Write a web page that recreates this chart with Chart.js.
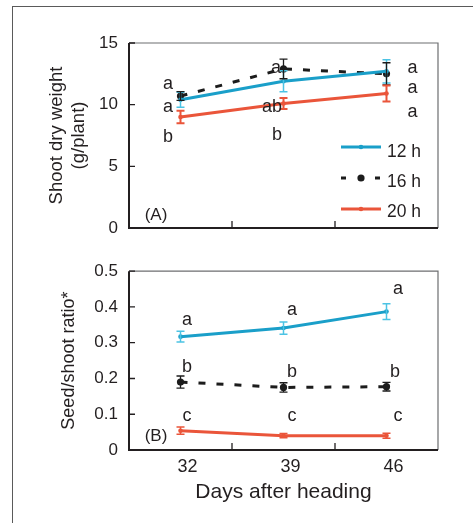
<!DOCTYPE html>
<html lang="en">
  <head>
    <meta charset="UTF-8" />
    <title>Shoot dry weight and seed/shoot ratio</title>
    <style>
      body {
        margin: 0;
        background: #fff;
        font-family: "Liberation Sans", Arial, sans-serif;
      }
      #page {
        position: relative;
        width: 473px;
        height: 523px;
        overflow: hidden;
      }
      .frame {
        position: absolute;
        left: 12px;
        top: 6px;
        width: 480px;
        height: 540px;
        border-left: 1.5px solid #5a5a5a;
        border-top: 1.5px solid #5a5a5a;
      }
      .panel {
        position: absolute;
        left: 0;
        width: 473px;
      }
      #panelA { top: 0; height: 250px; }
      #panelB { top: 250px; height: 273px; }
    </style>
    <script src="https://cdn.jsdelivr.net/npm/chart.js@4.4.1/dist/chart.umd.min.js"></script>
  </head>
  <body>
    <div id="page">
      <div class="frame"></div>
      <div class="panel" id="panelA"><canvas id="chartA"></canvas></div>
      <div class="panel" id="panelB"><canvas id="chartB"></canvas></div>
    </div>

    <script>
      // categories and series
      const days = ["32", "39", "46"];
      const seriesNames = ["12 h", "16 h", "20 h"];

      // (A) shoot dry weight, g/plant (means and error bars)
      const shoot12 = [10.4, 11.9, 12.7];
      const shoot16 = [10.7, 12.9, 12.5];
      const shoot20 = [9.0, 10.1, 10.9];
      const shootErr12 = [0.6, 0.85, 0.95];
      const shootErr16 = [0.35, 0.8, 0.9];
      const shootErr20 = [0.5, 0.45, 0.65];
      const shootTicks = [0, 5, 10, 15];
      const shootLetters12 = ["a", "ab", "a"];
      const shootLetters16 = ["a", "a", "a"];
      const shootLetters20 = ["b", "b", "a"];

      // (B) seed/shoot ratio
      const ratio12 = [0.317, 0.341, 0.387];
      const ratio16 = [0.19, 0.175, 0.177];
      const ratio20 = [0.054, 0.04, 0.04];
      const ratioErr12 = [0.015, 0.017, 0.022];
      const ratioErr16 = [0.017, 0.013, 0.012];
      const ratioErr20 = [0.01, 0.006, 0.007];
      const ratioTicks = [0, 0.1, 0.2, 0.3, 0.4, 0.5];
      const ratioLetters12 = ["a", "a", "a"];
      const ratioLetters16 = ["b", "b", "b"];
      const ratioLetters20 = ["c", "c", "c"];

      // where the letters sit (value of their centre, px shift from the point)
      const shootLetterY = [[9.81, 9.97, 11.35], [11.68, 12.97, 12.97], [7.54, 7.7, 9.4]];
      const shootLetterDx = [[-12.5, -11.5, 26], [-12.5, -7.5, 26], [-12.5, -6.5, 26]];
      const ratioLetterY = [[0.363, 0.392, 0.451], [0.237, 0.222, 0.223], [0.096, 0.096, 0.096]];
      const ratioLetterDx = [[6.5, 8.5, 11.5], [6.5, 8.5, 8.5], [6.5, 8.5, 11.5]];

      const BLUE = "#1a9fc9";
      const BLUE_ERR = "#4cc3e4";
      const BLACK = "#1c1c1c";
      const RED = "#ea553a";
      const INK = "#231f20";

      Chart.defaults.font.family = "'Liberation Sans', Arial, Helvetica, sans-serif";
      Chart.defaults.color = INK;

      function lineSets(v12, v16, v20, e12, e16, e20, redErrWidth) {
        return [
          { label: seriesNames[0], data: v12, err: e12, borderColor: BLUE, backgroundColor: BLUE,
            errColor: BLUE_ERR, errWidth: 1.5, borderWidth: 3, pointRadius: 2.3, pointBorderWidth: 0 },
          { label: seriesNames[1], data: v16, err: e16, borderColor: BLACK, backgroundColor: BLACK,
            errColor: BLACK, errWidth: 1.3, borderWidth: 3, borderDash: [7, 11], pointRadius: 3.6, pointBorderWidth: 0 },
          { label: seriesNames[2], data: v20, err: e20, borderColor: RED, backgroundColor: RED,
            errColor: RED, errWidth: redErrWidth, borderWidth: 3, pointRadius: 2.3, pointBorderWidth: 0 },
        ];
      }

      function letterItems(sets, ys, dxs) {
        const out = [];
        sets.forEach((letters, i) =>
          letters.forEach((t, j) => out.push({ text: t, col: j, value: ys[i][j], dx: dxs[i][j] }))
        );
        return out;
      }

      function centreText(ctx, text, cx, cy) {
        const m = ctx.measureText(text);
        ctx.fillText(text, cx, cy + (m.actualBoundingBoxAscent - m.actualBoundingBoxDescent) / 2);
      }

      // box, inward ticks, error bars, letters, panel tag and legend
      const decor = {
        id: "decor",
        beforeDatasetsDraw(chart) {
          const { ctx, chartArea: a, scales: { x, y } } = chart;
          ctx.save();
          ctx.strokeStyle = "#6d6e70";
          ctx.lineWidth = 1.2;
          ctx.beginPath();
          ctx.moveTo(a.left, a.top);
          ctx.lineTo(a.right, a.top);
          ctx.lineTo(a.right, a.bottom);
          ctx.stroke();
          ctx.strokeStyle = INK;
          ctx.lineWidth = 2;
          ctx.beginPath();
          ctx.moveTo(a.left, a.top);
          ctx.lineTo(a.left, a.bottom);
          ctx.lineTo(a.right, a.bottom);
          ctx.stroke();
          ctx.lineWidth = 1.3;
          ctx.beginPath();
          y.ticks.forEach((t) => {
            const py = y.getPixelForValue(t.value);
            ctx.moveTo(a.left, py);
            ctx.lineTo(a.left + 6, py);
          });
          for (let j = 0; j < x.ticks.length - 1; j++) {
            const px = (x.getPixelForValue(j) + x.getPixelForValue(j + 1)) / 2;
            ctx.moveTo(px, a.bottom);
            ctx.lineTo(px, a.bottom - 7);
          }
          ctx.stroke();
          ctx.restore();
        },
        afterDatasetsDraw(chart, args, o) {
          const { ctx, scales: { x, y } } = chart;
          ctx.save();
          chart.data.datasets.forEach((ds) => {
            ctx.strokeStyle = ds.errColor;
            ctx.lineWidth = ds.errWidth;
            ctx.beginPath();
            ds.data.forEach((v, j) => {
              const px = x.getPixelForValue(j);
              const lo = y.getPixelForValue(v - ds.err[j]);
              const hi = y.getPixelForValue(v + ds.err[j]);
              ctx.moveTo(px, lo);
              ctx.lineTo(px, hi);
              ctx.moveTo(px - 4, lo);
              ctx.lineTo(px + 4, lo);
              ctx.moveTo(px - 4, hi);
              ctx.lineTo(px + 4, hi);
            });
            ctx.stroke();
          });

          ctx.fillStyle = INK;
          ctx.textAlign = "center";
          ctx.textBaseline = "alphabetic";
          ctx.font = "18px 'Liberation Sans', Arial, sans-serif";
          o.letters.forEach((l) => {
            centreText(ctx, l.text, x.getPixelForValue(l.col) + l.dx, y.getPixelForValue(l.value));
          });

          ctx.font = "17px 'Liberation Sans', Arial, sans-serif";
          centreText(ctx, o.tag.text, o.tag.x, o.tag.y);

          if (o.legend) {
            const L = o.legend;
            chart.data.datasets.forEach((ds, i) => {
              const ly = L.lineY[i];
              ctx.strokeStyle = ds.borderColor;
              ctx.lineWidth = ds.borderWidth;
              ctx.setLineDash(ds.borderDash ? [5, 12] : []);
              ctx.beginPath();
              ctx.moveTo(L.x1, ly);
              ctx.lineTo(L.x2, ly);
              ctx.stroke();
              ctx.setLineDash([]);
              ctx.fillStyle = ds.backgroundColor;
              ctx.beginPath();
              ctx.arc((L.x1 + L.x2) / 2, ly, ds.pointRadius, 0, Math.PI * 2);
              ctx.fill();
              ctx.fillStyle = INK;
              ctx.textAlign = "left";
              ctx.font = "17.5px 'Liberation Sans', Arial, sans-serif";
              ctx.fillText(ds.label, L.textX, L.baseY[i]);
            });
          }
          ctx.restore();
        },
      };

      function makeChart(id, cfg) {
        return new Chart(document.getElementById(id), {
          type: "line",
          data: { labels: days, datasets: cfg.datasets },
          options: {
            responsive: true,
            maintainAspectRatio: false,
            animation: false,
            layout: { padding: { left: 0, top: cfg.top, right: 35, bottom: 0 } },
            plugins: {
              legend: { display: false },
              tooltip: { enabled: false },
              decor: cfg.decor,
            },
            scales: {
              x: {
                type: "category",
                offset: true,
                grid: { display: false, drawTicks: false },
                border: { display: false },
                ticks: {
                  display: cfg.xLabels,
                  padding: 6,
                  labelOffset: 7,
                  font: { size: 18 },
                  color: INK,
                },
                title: {
                  display: cfg.xLabels,
                  text: "Days after heading",
                  font: { size: 21, lineHeight: 1.2 },
                  color: INK,
                  padding: { top: 0, bottom: 18 },
                },
                afterFit: (s) => { s.height = cfg.xHeight; },
              },
              y: {
                min: cfg.ticks[0],
                max: cfg.ticks[cfg.ticks.length - 1],
                grid: { display: false, drawTicks: false },
                border: { display: false },
                afterBuildTicks: (s) => { s.ticks = cfg.ticks.map((v) => ({ value: v })); },
                ticks: {
                  padding: 11,
                  font: { size: 17 },
                  color: INK,
                  callback: (v) => String(v),
                },
                title: {
                  display: true,
                  text: cfg.yTitle,
                  font: { size: cfg.yTitleSize, lineHeight: 1.2 },
                  color: INK,
                  padding: { top: cfg.yTitlePad, bottom: 0 },
                },
                afterFit: (s) => { s.width = 129; },
              },
            },
          },
          plugins: [decor],
        });
      }

      makeChart("chartA", {
        datasets: lineSets(shoot12, shoot16, shoot20, shootErr12, shootErr16, shootErr20, 2),
        top: 43,
        xHeight: 22,
        xLabels: false,
        ticks: shootTicks,
        yTitle: ["Shoot dry weight", "(g/plant)"],
        yTitleSize: 18.5,
        yTitlePad: 46,
        decor: {
          letters: letterItems([shootLetters12, shootLetters16, shootLetters20], shootLetterY, shootLetterDx),
          tag: { text: "(A)", x: 156, y: 215 },
          legend: { x1: 341, x2: 381, textX: 387, lineY: [147, 178, 209], baseY: [157, 187, 217] },
        },
      });

      makeChart("chartB", {
        datasets: lineSets(ratio12, ratio16, ratio20, ratioErr12, ratioErr16, ratioErr20, 1.5),
        top: 17,
        xHeight: 73,
        xLabels: true,
        ticks: ratioTicks,
        yTitle: "Seed/shoot ratio*",
        yTitleSize: 18,
        yTitlePad: 58.5,
        decor: {
          letters: letterItems([ratioLetters12, ratioLetters16, ratioLetters20], ratioLetterY, ratioLetterDx),
          tag: { text: "(B)", x: 156, y: 186 },
          legend: null,
        },
      });
    </script>
  </body>
</html>
